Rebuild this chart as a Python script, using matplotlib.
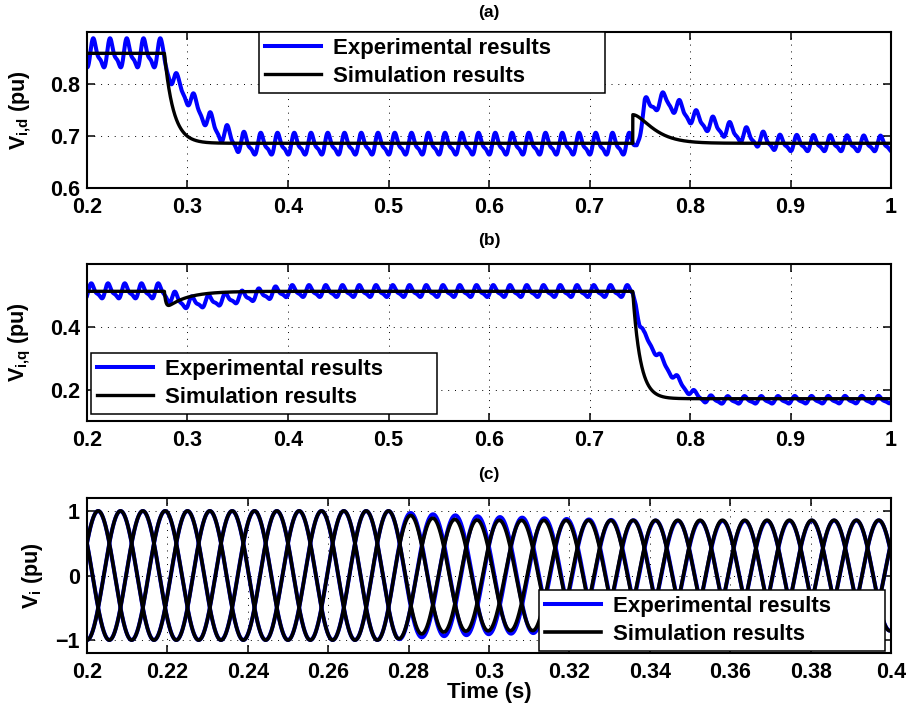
import numpy as np
import matplotlib
matplotlib.use('Agg')
import matplotlib.pyplot as plt
from matplotlib.ticker import FixedLocator, FuncFormatter

# ---------------- values ----------------
t_range_dq = [0.2, 1.0]
t_range_abc = [0.2, 0.4]
grid_freq = 60.0                     # Hz

# simulation, d axis (pu)
sim_d_levels = [0.859, 0.686]
sim_d_event_times = [0.277, 0.743]
sim_d_tau = [0.009, 0.0125]
sim_d_bump = 0.055

# simulation, q axis (pu)
sim_q_levels = [0.513, 0.171]
sim_q_dip = 0.045
sim_q_dip_tau = [0.0015, 0.02]
sim_q_tau = 0.0075

# experimental, d axis: mean trace and ripple half-amplitude
exp_d_t = [0.200, 0.276, 0.280, 0.290, 0.300, 0.310, 0.320, 0.330, 0.340, 0.350, 0.360,
           0.743, 0.747, 0.755, 0.765, 0.777, 0.785, 0.795, 0.805, 0.815, 0.830,
           0.845, 0.860, 0.875, 0.890, 1.000]
exp_d_v = [0.857, 0.857, 0.830, 0.800, 0.775, 0.755, 0.730, 0.712, 0.698, 0.688, 0.683,
           0.683, 0.690, 0.755, 0.763, 0.768, 0.757, 0.745, 0.733, 0.725, 0.715,
           0.706, 0.697, 0.690, 0.685, 0.684]
exp_d_rip_t = [0.200, 0.276, 0.290, 0.350, 0.740, 0.760, 0.850, 1.000]
exp_d_rip_a = [0.028, 0.028, 0.016, 0.021, 0.021, 0.016, 0.016, 0.015]

# experimental, q axis
exp_q_t = [0.200, 0.276, 0.285, 0.300, 0.320, 0.340, 0.360, 0.380, 0.400,
           0.743, 0.746, 0.750, 0.754, 0.760, 0.767, 0.775, 0.782, 0.790,
           0.797, 0.805, 0.815, 0.830, 1.000]
exp_q_v = [0.512, 0.512, 0.490, 0.475, 0.480, 0.488, 0.497, 0.505, 0.512,
           0.512, 0.480, 0.410, 0.370, 0.350, 0.315, 0.280, 0.250, 0.222,
           0.200, 0.183, 0.170, 0.166, 0.167]
exp_q_rip_t = [0.200, 0.280, 0.300, 0.740, 0.760, 0.820, 1.000]
exp_q_rip_a = [0.024, 0.024, 0.019, 0.019, 0.013, 0.012, 0.012]

ripple_peak_time = 0.207
ripple_h2 = [0.35, 1.0]              # relative 2nd harmonic amplitude, phase (rad)
abc_theta0_deg = 149.2

legend_labels = ['Experimental results', 'Simulation results']
titles = ['(a)', '(b)', '(c)']
ylabels = [r'$V_{i{,}d}$ (pu)', r'$V_{i{,}q}$ (pu)', r'$V_{i}$ (pu)']
xlabel_c = 'Time (s)'
xticks_dq = [0.2, 0.3, 0.4, 0.5, 0.6, 0.7, 0.8, 0.9, 1.0]
yticks_a = [0.6, 0.7, 0.8]
ylim_a = [0.6, 0.9]
yticks_b = [0.2, 0.4]
ylim_b = [0.1, 0.6]
xticks_c = [0.2, 0.22, 0.24, 0.26, 0.28, 0.3, 0.32, 0.34, 0.36, 0.38, 0.4]
yticks_c = [-1, 0, 1]
ylim_c = [-1.2, 1.2]

# ---------------- signal construction ----------------
w = 2 * np.pi * grid_freq


def sim_d(t):
    t1, t2 = sim_d_event_times
    dt1 = np.clip(t - t1, 0, None)
    dt2 = np.clip(t - t2, 0, None)
    v = sim_d_levels[0] - (sim_d_levels[0] - sim_d_levels[1]) * (1 - np.exp(-dt1 / sim_d_tau[0])) * (t >= t1)
    v = v + sim_d_bump * (1 + dt2 / sim_d_tau[1]) * np.exp(-dt2 / sim_d_tau[1]) * (t >= t2)
    return v


def sim_q(t):
    t1, t2 = sim_d_event_times
    dt1 = np.clip(t - t1, 0, None)
    dt2 = np.clip(t - t2, 0, None)
    ta, tb = sim_q_dip_tau
    xm = np.log(tb / ta) * ta * tb / (tb - ta)
    norm = np.exp(-xm / tb) - np.exp(-xm / ta)
    shape = (np.exp(-dt1 / tb) - np.exp(-dt1 / ta)) / norm
    v = sim_q_levels[0] - sim_q_dip * shape * (t >= t1)
    v = v - (sim_q_levels[0] - sim_q_levels[1]) * (1 - np.exp(-dt2 / sim_q_tau)) * (t >= t2)
    return v


def ripple_shape(t):
    x = w * (t - ripple_peak_time)
    f = np.cos(x) + ripple_h2[0] * np.cos(2 * x + ripple_h2[1])
    xs = np.linspace(0, 2 * np.pi, 2000)
    fs = np.cos(xs) + ripple_h2[0] * np.cos(2 * xs + ripple_h2[1])
    return (f - fs.mean()) * 2 / (fs.max() - fs.min())


t = np.arange(t_range_dq[0], t_range_dq[1] + 1e-9, 0.0001)
sd = sim_d(t)
sq = sim_q(t)
ed = np.interp(t, exp_d_t, exp_d_v) + np.interp(t, exp_d_rip_t, exp_d_rip_a) * ripple_shape(t)
eq = np.interp(t, exp_q_t, exp_q_v) + np.interp(t, exp_q_rip_t, exp_q_rip_a) * ripple_shape(t + 0.002)

tc = np.arange(t_range_abc[0], t_range_abc[1] + 1e-9, 0.00002)
th = w * (tc - t_range_abc[0]) + np.deg2rad(abc_theta0_deg)
sdc, sqc = sim_d(tc), sim_q(tc)
edc, eqc = np.interp(tc, exp_d_t, exp_d_v), np.interp(tc, exp_q_t, exp_q_v)
shifts = [0, -2 * np.pi / 3, 2 * np.pi / 3]
sim_abc = [sdc * np.cos(th + s) - sqc * np.sin(th + s) for s in shifts]
exp_abc = [edc * np.cos(th + s) - eqc * np.sin(th + s) for s in shifts]

# ---------------- drawing ----------------
plt.rcParams['font.family'] = ['Liberation Sans', 'DejaVu Sans']
plt.rcParams['font.weight'] = 'bold'
plt.rcParams['axes.labelweight'] = 'bold'
plt.rcParams['mathtext.fontset'] = 'custom'
plt.rcParams['mathtext.rm'] = 'Liberation Sans:bold'
plt.rcParams['mathtext.it'] = 'Liberation Sans:bold'
plt.rcParams['mathtext.bf'] = 'Liberation Sans:bold'

W, H = 909, 715
fig = plt.figure(figsize=(W / 100, H / 100), dpi=100)

boxes = [(87, 32, 891, 188), (87, 264, 891, 421), (87, 498, 891, 653)]
axes = []
for (x0, y0, x1, y1) in boxes:
    axes.append(fig.add_axes([x0 / W, 1 - y1 / H, (x1 - x0) / W, (y1 - y0) / H]))

BLUE = '#0000ff'
fmt = FuncFormatter(lambda v, _: ('%g' % round(v, 6)).replace('-', '\u2212'))


def style(ax, xticks, yticks, xlim, ylim):
    ax.set_xlim(xlim)
    ax.set_ylim(ylim)
    ax.xaxis.set_major_locator(FixedLocator(xticks))
    ax.yaxis.set_major_locator(FixedLocator(yticks))
    ax.xaxis.set_major_formatter(fmt)
    ax.yaxis.set_major_formatter(fmt)
    ax.tick_params(direction='in', top=True, right=True, length=5.5, width=1.1,
                   labelsize=15.5)
    ax.tick_params(axis='x', pad=6.5)
    ax.tick_params(axis='y', pad=5)
    ax.grid(True, color='black', linestyle=(0, (1, 6)), linewidth=0.7)
    for sp in ax.spines.values():
        sp.set_linewidth(1.5)


def add_legend(ax, loc, anchor):
    leg = ax.legend(loc=loc, bbox_to_anchor=anchor, mode='expand', fontsize=16,
                    handlelength=2.5, handletextpad=0.55, borderpad=0.28,
                    labelspacing=0.3, borderaxespad=0, fancybox=False,
                    framealpha=1, edgecolor='black')
    leg.get_frame().set_linewidth(1.1)
    return leg


legw = 346 / 804
# (a)
ax = axes[0]
ax.plot(t, ed, color=BLUE, lw=2.9, label=legend_labels[0])
ax.plot(t, sd, color='black', lw=2.4, label=legend_labels[1])
style(ax, xticks_dq, yticks_a, t_range_dq, ylim_a)
add_legend(ax, 'upper left', ((259 - 87) / 804, 0.0, legw, 1.0))

# (b)
ax = axes[1]
ax.plot(t, eq, color=BLUE, lw=2.9, label=legend_labels[0])
ax.plot(t, sq, color='black', lw=2.4, label=legend_labels[1])
style(ax, xticks_dq, yticks_b, t_range_dq, ylim_b)
add_legend(ax, 'lower left', ((91 - 87) / 804, (421 - 414) / 157, legw, 0.5))

# (c)
ax = axes[2]
for k in range(3):
    ax.plot(tc, exp_abc[k], color=BLUE, lw=2.9, label=legend_labels[0] if k == 0 else None)
for k in range(3):
    ax.plot(tc, sim_abc[k], color='black', lw=2.6, label=legend_labels[1] if k == 0 else None)
style(ax, xticks_c, yticks_c, t_range_abc, ylim_c)
add_legend(ax, 'lower right', ((539 - 87) / 804, (653 - 651) / 155, legw, 0.5))
ax.set_xlabel(xlabel_c, fontsize=16, fontweight='bold')
ax.xaxis.set_label_coords(0.5, -0.19)

label_x = [-0.067, -0.067, -0.052]
for ax, lab, lx in zip(axes, ylabels, label_x):
    ax.set_ylabel(lab, fontsize=15.5, fontweight='bold')
    ax.yaxis.set_label_coords(lx, 0.5)

title_y = [12, 241, 475]
for ttl, ty in zip(titles, title_y):
    fig.text(489 / W, 1 - ty / H, ttl, ha='center', va='center', fontsize=12.5, fontweight='bold')

fig.savefig('out.png', dpi=100)
